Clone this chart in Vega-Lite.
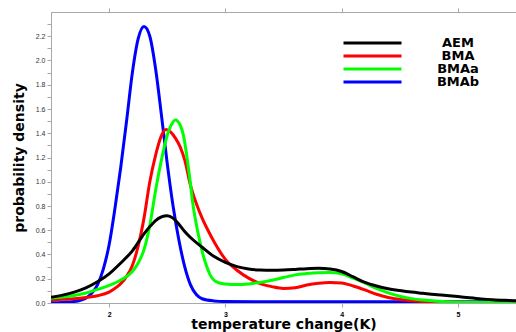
{
  "$schema": "https://vega.github.io/schema/vega-lite/v6.json",
  "width": 465,
  "height": 291,
  "autosize": {"type": "none"},
  "padding": {"left": 51, "top": 12, "right": 0, "bottom": 29},
  "background": "white",
  "config": {
    "view": {"stroke": "#a8a8a8", "strokeWidth": 1},
    "axis": {"grid": false, "domainColor": "#a8a8a8", "tickColor": "#a8a8a8", "labelFont": "Liberation Sans", "labelFontSize": 7, "labelColor": "#333333", "titleFont": "DejaVu Sans", "titleFontWeight": "bold", "titleFontSize": 14, "titleColor": "black"},
    "axisY": {"labelOverlap": false}
  },
  "data": {"values": [
    {"s":"BMAb","x":1.5,"y":0.003},{"s":"BMAb","x":1.6,"y":0.005},{"s":"BMAb","x":1.7,"y":0.012},{"s":"BMAb","x":1.8,"y":0.04},{"s":"BMAb","x":1.85,"y":0.08},{"s":"BMAb","x":1.9,"y":0.15},{"s":"BMAb","x":1.95,"y":0.28},{"s":"BMAb","x":2.0,"y":0.48},{"s":"BMAb","x":2.05,"y":0.78},{"s":"BMAb","x":2.1,"y":1.12},{"s":"BMAb","x":2.15,"y":1.5},{"s":"BMAb","x":2.2,"y":1.9},{"s":"BMAb","x":2.25,"y":2.18},{"s":"BMAb","x":2.3,"y":2.28},{"s":"BMAb","x":2.35,"y":2.2},{"s":"BMAb","x":2.4,"y":1.93},{"s":"BMAb","x":2.45,"y":1.55},{"s":"BMAb","x":2.5,"y":1.15},{"s":"BMAb","x":2.55,"y":0.8},{"s":"BMAb","x":2.6,"y":0.52},{"s":"BMAb","x":2.65,"y":0.3},{"s":"BMAb","x":2.7,"y":0.15},{"s":"BMAb","x":2.75,"y":0.07},{"s":"BMAb","x":2.8,"y":0.035},{"s":"BMAb","x":2.9,"y":0.017},{"s":"BMAb","x":3.0,"y":0.012},{"s":"BMAb","x":3.5,"y":0.01},{"s":"BMAb","x":4.0,"y":0.01},{"s":"BMAb","x":4.5,"y":0.01},{"s":"BMAb","x":5.0,"y":0.01},{"s":"BMAb","x":5.5,"y":0.01},
    {"s":"BMA","x":1.5,"y":0.025},{"s":"BMA","x":1.6,"y":0.03},{"s":"BMA","x":1.7,"y":0.035},{"s":"BMA","x":1.8,"y":0.045},{"s":"BMA","x":1.9,"y":0.06},{"s":"BMA","x":2.0,"y":0.09},{"s":"BMA","x":2.07,"y":0.135},{"s":"BMA","x":2.1,"y":0.16},{"s":"BMA","x":2.15,"y":0.22},{"s":"BMA","x":2.2,"y":0.31},{"s":"BMA","x":2.25,"y":0.47},{"s":"BMA","x":2.3,"y":0.7},{"s":"BMA","x":2.35,"y":1.0},{"s":"BMA","x":2.4,"y":1.22},{"s":"BMA","x":2.45,"y":1.38},{"s":"BMA","x":2.49,"y":1.43},{"s":"BMA","x":2.53,"y":1.41},{"s":"BMA","x":2.57,"y":1.36},{"s":"BMA","x":2.61,"y":1.29},{"s":"BMA","x":2.65,"y":1.18},{"s":"BMA","x":2.7,"y":0.97},{"s":"BMA","x":2.75,"y":0.82},{"s":"BMA","x":2.8,"y":0.7},{"s":"BMA","x":2.85,"y":0.6},{"s":"BMA","x":2.9,"y":0.51},{"s":"BMA","x":3.0,"y":0.36},{"s":"BMA","x":3.1,"y":0.27},{"s":"BMA","x":3.2,"y":0.205},{"s":"BMA","x":3.3,"y":0.16},{"s":"BMA","x":3.4,"y":0.135},{"s":"BMA","x":3.5,"y":0.12},{"s":"BMA","x":3.6,"y":0.125},{"s":"BMA","x":3.7,"y":0.148},{"s":"BMA","x":3.8,"y":0.163},{"s":"BMA","x":3.9,"y":0.17},{"s":"BMA","x":4.0,"y":0.165},{"s":"BMA","x":4.1,"y":0.14},{"s":"BMA","x":4.2,"y":0.108},{"s":"BMA","x":4.3,"y":0.072},{"s":"BMA","x":4.4,"y":0.045},{"s":"BMA","x":4.5,"y":0.028},{"s":"BMA","x":4.6,"y":0.018},{"s":"BMA","x":4.75,"y":0.01},{"s":"BMA","x":5.0,"y":0.006},{"s":"BMA","x":5.5,"y":0.004},
    {"s":"BMAa","x":1.5,"y":0.04},{"s":"BMAa","x":1.6,"y":0.05},{"s":"BMAa","x":1.7,"y":0.062},{"s":"BMAa","x":1.8,"y":0.082},{"s":"BMAa","x":1.9,"y":0.112},{"s":"BMAa","x":2.0,"y":0.145},{"s":"BMAa","x":2.1,"y":0.19},{"s":"BMAa","x":2.2,"y":0.26},{"s":"BMAa","x":2.25,"y":0.33},{"s":"BMAa","x":2.3,"y":0.44},{"s":"BMAa","x":2.35,"y":0.64},{"s":"BMAa","x":2.4,"y":0.93},{"s":"BMAa","x":2.45,"y":1.18},{"s":"BMAa","x":2.49,"y":1.35},{"s":"BMAa","x":2.53,"y":1.46},{"s":"BMAa","x":2.57,"y":1.51},{"s":"BMAa","x":2.61,"y":1.47},{"s":"BMAa","x":2.64,"y":1.38},{"s":"BMAa","x":2.67,"y":1.2},{"s":"BMAa","x":2.7,"y":0.98},{"s":"BMAa","x":2.72,"y":0.82},{"s":"BMAa","x":2.75,"y":0.65},{"s":"BMAa","x":2.78,"y":0.51},{"s":"BMAa","x":2.81,"y":0.39},{"s":"BMAa","x":2.84,"y":0.3},{"s":"BMAa","x":2.87,"y":0.23},{"s":"BMAa","x":2.9,"y":0.19},{"s":"BMAa","x":2.95,"y":0.165},{"s":"BMAa","x":3.0,"y":0.157},{"s":"BMAa","x":3.1,"y":0.152},{"s":"BMAa","x":3.2,"y":0.157},{"s":"BMAa","x":3.3,"y":0.17},{"s":"BMAa","x":3.4,"y":0.188},{"s":"BMAa","x":3.5,"y":0.21},{"s":"BMAa","x":3.6,"y":0.232},{"s":"BMAa","x":3.7,"y":0.243},{"s":"BMAa","x":3.8,"y":0.25},{"s":"BMAa","x":3.9,"y":0.252},{"s":"BMAa","x":4.0,"y":0.24},{"s":"BMAa","x":4.1,"y":0.205},{"s":"BMAa","x":4.2,"y":0.165},{"s":"BMAa","x":4.3,"y":0.12},{"s":"BMAa","x":4.4,"y":0.083},{"s":"BMAa","x":4.5,"y":0.055},{"s":"BMAa","x":4.6,"y":0.036},{"s":"BMAa","x":4.7,"y":0.024},{"s":"BMAa","x":4.9,"y":0.01},{"s":"BMAa","x":5.2,"y":0.005},{"s":"BMAa","x":5.5,"y":0.003},
    {"s":"AEM","x":1.5,"y":0.047},{"s":"AEM","x":1.6,"y":0.065},{"s":"AEM","x":1.7,"y":0.09},{"s":"AEM","x":1.8,"y":0.125},{"s":"AEM","x":1.9,"y":0.175},{"s":"AEM","x":2.0,"y":0.24},{"s":"AEM","x":2.1,"y":0.33},{"s":"AEM","x":2.2,"y":0.43},{"s":"AEM","x":2.3,"y":0.57},{"s":"AEM","x":2.35,"y":0.63},{"s":"AEM","x":2.4,"y":0.68},{"s":"AEM","x":2.45,"y":0.71},{"s":"AEM","x":2.5,"y":0.72},{"s":"AEM","x":2.55,"y":0.7},{"s":"AEM","x":2.6,"y":0.65},{"s":"AEM","x":2.65,"y":0.59},{"s":"AEM","x":2.7,"y":0.54},{"s":"AEM","x":2.8,"y":0.46},{"s":"AEM","x":2.9,"y":0.385},{"s":"AEM","x":3.0,"y":0.335},{"s":"AEM","x":3.1,"y":0.3},{"s":"AEM","x":3.2,"y":0.28},{"s":"AEM","x":3.3,"y":0.272},{"s":"AEM","x":3.4,"y":0.27},{"s":"AEM","x":3.5,"y":0.272},{"s":"AEM","x":3.6,"y":0.277},{"s":"AEM","x":3.7,"y":0.283},{"s":"AEM","x":3.8,"y":0.286},{"s":"AEM","x":3.9,"y":0.28},{"s":"AEM","x":4.0,"y":0.26},{"s":"AEM","x":4.1,"y":0.215},{"s":"AEM","x":4.2,"y":0.17},{"s":"AEM","x":4.3,"y":0.14},{"s":"AEM","x":4.4,"y":0.118},{"s":"AEM","x":4.5,"y":0.103},{"s":"AEM","x":4.6,"y":0.09},{"s":"AEM","x":4.7,"y":0.08},{"s":"AEM","x":4.8,"y":0.07},{"s":"AEM","x":4.9,"y":0.062},{"s":"AEM","x":5.0,"y":0.053},{"s":"AEM","x":5.1,"y":0.043},{"s":"AEM","x":5.2,"y":0.034},{"s":"AEM","x":5.3,"y":0.027},{"s":"AEM","x":5.4,"y":0.022},{"s":"AEM","x":5.5,"y":0.018}
  ]},
  "resolve": {"axis": {"x": "independent"}},
  "layer": [
    {
      "mark": {"type": "line", "strokeWidth": 3, "interpolate": "monotone", "clip": true},
      "encoding": {
        "x": {"field": "x", "type": "quantitative", "scale": {"domain": [1.5, 5.5], "nice": false, "zero": false},
          "axis": {"title": "temperature change(K)", "values": [2, 3, 4, 5], "tickSize": 4, "labelPadding": 3, "titlePadding": 0, "labelFontWeight": "bold", "labelColor": "black"}},
        "y": {"field": "y", "type": "quantitative", "scale": {"domain": [0, 2.4], "nice": false},
          "axis": {"title": "probability density", "values": [0, 0.1, 0.2, 0.3, 0.4, 0.5, 0.6, 0.7, 0.8, 0.9, 1.0, 1.1, 1.2, 1.3, 1.4, 1.5, 1.6, 1.7, 1.8, 1.9, 2.0, 2.1, 2.2, 2.3],
            "labelExpr": "round(datum.value*10) % 2 == 0 ? format(datum.value, '.1f') : ''", "labelOverlap": false, "tickSize": 4, "labelPadding": 2, "titlePadding": 9}},
        "color": {"field": "s", "type": "nominal",
          "scale": {"domain": ["AEM", "BMA", "BMAa", "BMAb"], "range": ["#000000", "#ff0000", "#00ff00", "#0000ff"]},
          "legend": {"orient": "none", "legendX": 291, "legendY": 25, "title": null, "symbolType": "stroke", "symbolSize": 3364, "symbolStrokeWidth": 3, "labelFont": "DejaVu Sans", "labelFontWeight": "bold", "labelFontSize": 13, "labelColor": "black", "labelAlign": "center", "labelOffset": 55, "clipHeight": 12, "rowPadding": -0.7, "padding": 0, "labelLimit": 200}}
      }
    },
    {
      "mark": {"type": "rule", "strokeOpacity": 0},
      "encoding": {
        "x": {"field": "x", "type": "quantitative", "axis": {"orient": "top", "values": [2, 3, 4, 5], "labels": false, "title": null, "tickSize": 4, "domain": false}}
      }
    }
  ]
}
